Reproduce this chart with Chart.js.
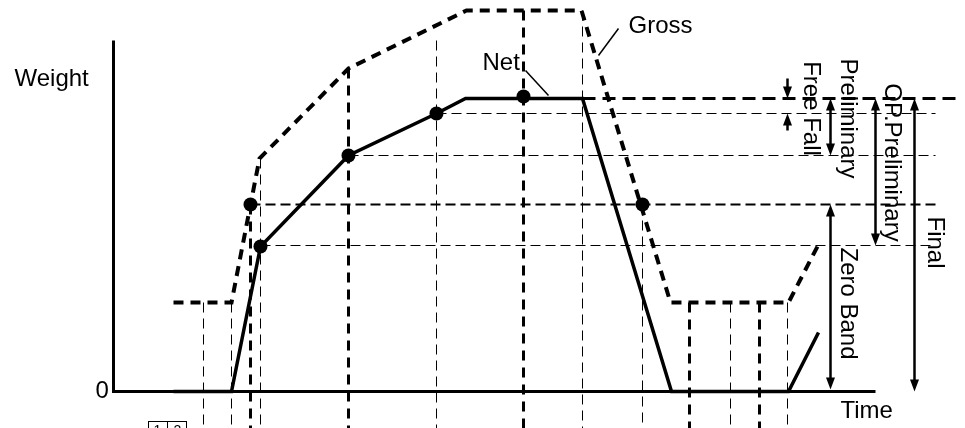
<!DOCTYPE html>
<html>
<head>
<meta charset="utf-8">
<script src="https://cdn.jsdelivr.net/npm/chart.js@4"></script>
<style>
  html, body { margin: 0; padding: 0; background: #fff; }
  #wrap { width: 965px; height: 428px; }
</style>
</head>
<body>
<div id="wrap"><canvas id="weighCanvas"></canvas></div>
<script>
// net weight curve (time, weight)
var netTime = [173, 231, 260, 348, 436, 465, 582, 671, 788, 818];
var netWeight = [0, 0, 145, 236, 278, 293, 293, 0, 0, 59];

// gross weight curve
var grossTime = [173, 231, 259, 348, 466, 581, 670, 788, 818];
var grossWeight = [89, 89, 233, 323, 381, 381, 89, 89, 147];

// marked points
var netDotTime = [260, 348, 436, 523];
var netDotWeight = [145, 236, 278, 295];
var grossDotTime = [250, 642];
var grossDotWeight = [187, 187];

// horizontal guide levels
var levelWeight = [293, 278, 236, 187, 146];
var levelFrom = [582, 436, 348, 250, 260];
var levelTo = [958, 935, 935, 935, 935];

// vertical guide times
var markTime = [203, 231, 250, 260, 348, 436, 523, 582, 642, 689, 730, 759, 787];
var markTop = [89, 89, 187, 233, 323, 351, 381, 381, 187, 89, 89, 89, 89];

var heavyLevel = [true, false, false, true, false];
var heavyMark = [false, false, true, false, true, false, true, false, false, true, false, true, false];

function pts(xs, ys) {
  return xs.map(function (x, i) { return { x: x, y: ys[i] }; });
}

var datasets = [];

// axes
datasets.push({ data: [{ x: 113, y: 351 }, { x: 113, y: 0 }, { x: 875, y: 0 }],
  borderColor: '#000', borderWidth: 3, pointRadius: 0, borderJoinStyle: 'miter' });

levelWeight.forEach(function (w, i) {
  datasets.push({ data: [{ x: levelFrom[i], y: w }, { x: levelTo[i], y: w }],
    borderColor: '#000', pointRadius: 0,
    borderWidth: heavyLevel[i] ? (i == 0 ? 3 : 2) : 1,
    borderDash: heavyLevel[i] ? (i == 0 ? [13, 7] : [10, 5]) : [10, 5] });
});

markTime.forEach(function (t, i) {
  datasets.push({ data: [{ x: t, y: markTop[i] }, { x: t, y: -40 }],
    borderColor: '#000', pointRadius: 0,
    borderWidth: heavyMark[i] ? 3 : 1,
    borderDash: heavyMark[i] ? [10, 7] : [10, 6] });
});

datasets.push({ data: pts(grossTime, grossWeight), borderColor: '#000', borderWidth: 4,
  borderDash: [10, 7], pointRadius: 0 });
datasets.push({ data: pts(netTime, netWeight), borderColor: '#000', borderWidth: 3.5,
  pointRadius: 0, borderJoinStyle: 'miter' });
datasets.push({ data: pts(netDotTime, netDotWeight).concat(pts(grossDotTime, grossDotWeight)),
  showLine: false, pointRadius: 7, pointBackgroundColor: '#000', pointBorderWidth: 0 });

// arrows: time, from, to, double headed
var arrows = [
  [787, 313, 293, false], [787, 261, 278, false],
  [830, 236, 293, true], [830, 2, 187, true],
  [875, 146, 293, true], [914, 0, 293, true]
];
var labels = [
  ['Weight', 14, 306, 0], ['0', 95, -6, 0], ['Time', 840, -26, 0],
  ['Net', 482, 322, 0], ['Gross', 628, 359, 0],
  ['Free Fall', 803, 283, 1], ['Preliminary', 840, 273, 1],
  ['OP.Preliminary', 884, 229, 1], ['Zero Band', 840, 88, 1], ['Final', 927, 149, 1]
];
var leaders = [[525, 321, 548, 296], [618, 363, 598, 336]];

var sketch = {
  id: 'sketch',
  afterDraw: function (chart) {
    var c = chart.ctx, sx = chart.scales.x, sy = chart.scales.y;
    var X = function (v) { return sx.getPixelForValue(v); };
    var Y = function (v) { return sy.getPixelForValue(v); };
    c.save();
    c.strokeStyle = '#000';
    c.fillStyle = '#000';

    function head(x, tip, dir) {
      c.beginPath();
      c.moveTo(x, tip);
      c.lineTo(x - 4.5, tip + dir * 12);
      c.lineTo(x + 4.5, tip + dir * 12);
      c.closePath();
      c.fill();
    }
    arrows.forEach(function (a) {
      var x = X(a[0]), y1 = Y(a[1]), y2 = Y(a[2]);
      var dir = y2 > y1 ? -1 : 1;
      c.lineWidth = 2.5;
      c.beginPath();
      c.moveTo(x, a[3] ? y1 - dir * 8 : y1);
      c.lineTo(x, y2 + dir * 8);
      c.stroke();
      head(x, y2, dir);
      if (a[3]) head(x, y1, -dir);
    });

    c.lineWidth = 1.5;
    leaders.forEach(function (l) {
      c.beginPath();
      c.moveTo(X(l[0]), Y(l[1]));
      c.lineTo(X(l[2]), Y(l[3]));
      c.stroke();
    });

    c.font = '24px "Liberation Sans", Arial, sans-serif';
    c.textBaseline = 'alphabetic';
    labels.forEach(function (l) {
      c.save();
      c.translate(X(l[1]), Y(l[2]));
      if (l[3]) {
        c.rotate(Math.PI / 2);
        c.textAlign = 'center';
      } else {
        c.textAlign = 'left';
      }
      c.fillText(l[0], 0, 0);
      c.restore();
    });

    // little step table at the bottom, cut off by the frame
    c.lineWidth = 1;
    c.strokeRect(X(148), Y(-30), X(186) - X(148), 20);
    c.beginPath();
    c.moveTo(X(167), Y(-30));
    c.lineTo(X(167), Y(-30) + 20);
    c.stroke();
    c.font = '14px "Liberation Sans", Arial, sans-serif';
    c.textAlign = 'center';
    c.fillText('1', X(157), Y(-43));
    c.fillText('2', X(177), Y(-43));
    c.restore();
  }
};

new Chart(document.getElementById('weighCanvas'), {
  type: 'line',
  data: { datasets: datasets },
  options: {
    responsive: true,
    maintainAspectRatio: false,
    animation: false,
    layout: { padding: 0, autoPadding: false },
    plugins: { legend: { display: false }, tooltip: { enabled: false } },
    scales: {
      // half-pixel offset keeps the 1px guides crisp
      x: { type: 'linear', min: -0.5, max: 964.5, display: false },
      y: { type: 'linear', min: -36.5, max: 391.5, display: false }
    }
  },
  plugins: [sketch]
});
</script>
</body>
</html>
